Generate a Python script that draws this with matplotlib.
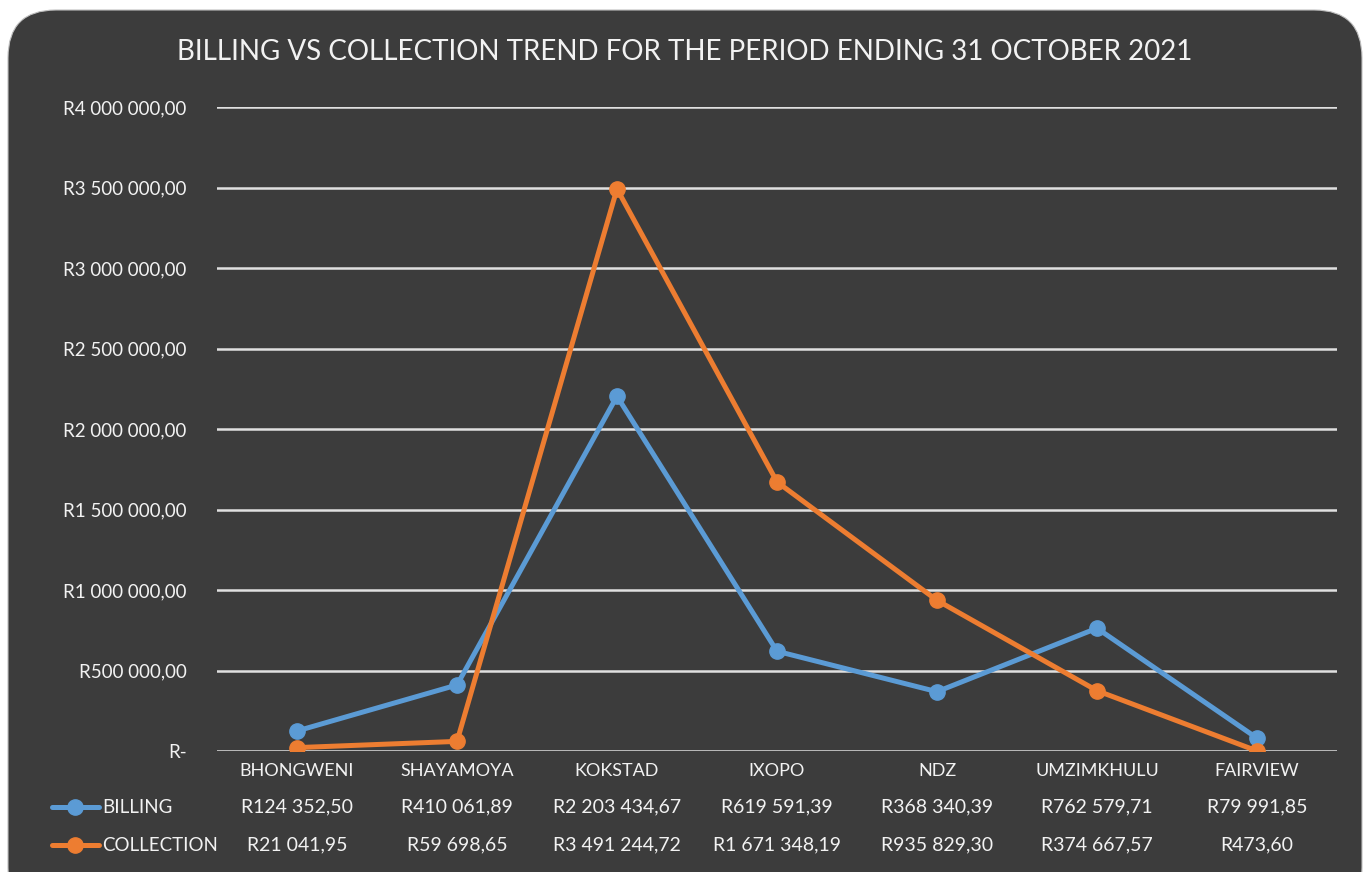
import matplotlib
import matplotlib.pyplot as plt
from matplotlib.patches import FancyBboxPatch
from matplotlib.lines import Line2D
from matplotlib.ticker import FuncFormatter, MultipleLocator
from matplotlib.transforms import blended_transform_factory

matplotlib.use("Agg")

categories = ["BHONGWENI", "SHAYAMOYA", "KOKSTAD", "IXOPO", "NDZ", "UMZIMKHULU", "FAIRVIEW"]
billing = [124352.50, 410061.89, 2203434.67, 619591.39, 368340.39, 762579.71, 79991.85]
collection = [21041.95, 59698.65, 3491244.72, 1671348.19, 935829.30, 374667.57, 473.60]

BLUE = "#5b9bd5"
ORANGE = "#ed7d31"
BG = "#3c3c3c"
GRID = "#e0e0e0"
TXT = "#f2f2f2"
FONT = ["Lato", "DejaVu Sans"]


def rand(v):
    if v == 0:
        return "R-"
    return "R" + f"{v:,.2f}".replace(",", " ").replace(".", ",")


fig = plt.figure(figsize=(13.66, 8.72), dpi=100)
fig.patch.set_facecolor("white")
panel = FancyBboxPatch((8 / 1366, -0.05), 1354 / 1366, 1 - 10 / 872 + 0.05,
                       boxstyle="round,pad=0,rounding_size=0.035", transform=fig.transFigure,
                       facecolor=BG, edgecolor="#bfbfbf", linewidth=0.8,
                       mutation_aspect=1366 / 872, zorder=-10)
fig.patches.append(panel)

ax = fig.add_axes([217 / 1366, 1 - 751 / 872, 1120 / 1366, 644 / 872])
ax.set_facecolor("none")
x = list(range(len(categories)))
ax.plot(x, billing, color=BLUE, lw=3.6, marker="o", markersize=11, zorder=3)
ax.plot(x, collection, color=ORANGE, lw=3.6, marker="o", markersize=11, zorder=4)

ax.set_xlim(-0.5, len(categories) - 0.5)
ax.set_ylim(0, 4000000)
ax.yaxis.set_major_locator(MultipleLocator(500000))
ax.yaxis.set_major_formatter(FuncFormatter(lambda v, p: rand(v)))
ax.grid(axis="y", color=GRID, lw=1.8, zorder=0)
ax.set_axisbelow(True)
for s in ax.spines.values():
    s.set_visible(False)
ax.tick_params(axis="y", length=0, pad=22, labelcolor=TXT, labelsize=13.5)
ax.tick_params(axis="x", length=0, labelbottom=False)
for lbl in ax.get_yticklabels():
    lbl.set_family(FONT)

# data table under the plot
tr = blended_transform_factory(ax.transData, fig.transFigure)
for i, cat in enumerate(categories):
    ax.text(i, 1 - 771 / 872, cat, transform=tr, ha="center", va="center",
            color=TXT, fontsize=13, family=FONT)
    ax.text(i, 1 - 807 / 872, rand(billing[i]), transform=tr, ha="center", va="center",
            color=TXT, fontsize=14, family=FONT)
    ax.text(i, 1 - 845 / 872, rand(collection[i]), transform=tr, ha="center", va="center",
            color=TXT, fontsize=14, family=FONT)

for name, col, yp in [("BILLING", BLUE, 807), ("COLLECTION", ORANGE, 845)]:
    y = 1 - yp / 872
    fig.add_artist(Line2D([52 / 1366, 99 / 1366], [y, y], transform=fig.transFigure,
                          color=col, lw=3.6, solid_capstyle="round"))
    fig.add_artist(Line2D([75 / 1366], [y], transform=fig.transFigure, color=col,
                          marker="o", markersize=11))
    fig.text(102 / 1366, y, name, ha="left", va="center", color=TXT, fontsize=13.5, family=FONT)

fig.text(685 / 1366, 1 - 52 / 872, "BILLING VS COLLECTION TREND FOR THE PERIOD ENDING 31 OCTOBER 2021",
         ha="center", va="center", color=TXT, fontsize=20, family=FONT)

fig.savefig("out.png", dpi=100, facecolor=fig.get_facecolor())
plt.close(fig)
